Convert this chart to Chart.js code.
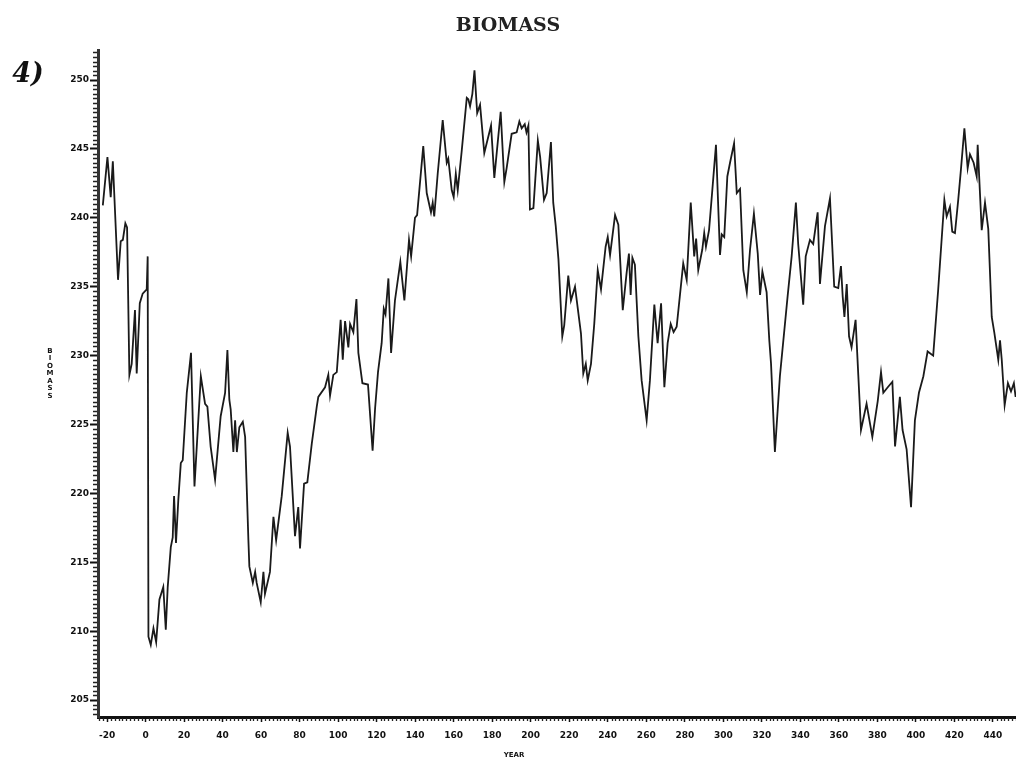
<!DOCTYPE html>
<html>
<head>
<meta charset="utf-8">
<title>Biomass</title>
<script src="https://cdn.jsdelivr.net/npm/chart.js@4.4.1/dist/chart.umd.min.js"></script>
<style>
  html, body { margin: 0; padding: 0; background: #fff; }
  #wrap { position: relative; width: 1016px; height: 765px; }
</style>
</head>
<body>
<div id="wrap"><canvas id="biomassChart"></canvas></div>
<script>
// ===================
// Data: simulated biomass by year
// ===================
const years = [
  -22.2, -19.8, -18.1, -17.0, -14.3, -12.9, -11.8, -10.5, -9.6, -8.4, -7.2, -5.5, -4.6, -3.0, -1.5, 0.6, 1.1,
  1.5, 2.7, 4.1, 5.5, 7.2, 9.2, 10.5, 11.5, 13.1, 14.1, 14.8, 15.8, 17.0, 18.3, 19.3, 21.4, 23.6, 25.4,
  28.7, 30.9, 32.1, 33.8, 36.1, 39.0, 41.3, 42.5, 43.5, 44.2, 45.6, 46.5, 47.4, 48.7, 50.5, 51.7,
  53.4, 53.9, 55.7, 56.9, 57.7, 59.8, 61.2, 62.0, 64.6, 66.4, 67.8, 70.7, 73.8, 75.0, 77.6, 79.3,
  80.2, 82.3, 84.0, 86.3, 88.9, 89.7, 93.2, 94.9, 95.8, 97.5, 99.3, 101.3, 102.4, 103.6, 105.3,
  106.2, 107.9, 109.5, 110.5, 112.6, 115.5, 117.9, 119.2, 120.7, 122.6, 123.7, 124.6, 126.1, 127.5,
  129.5, 132.3, 134.4, 136.8, 137.9, 139.9, 141.0, 144.2, 146.0, 148.2, 149.1, 149.9, 151.7, 154.3,
  156.4, 157.2, 159.0, 160.0, 161.1, 162.1, 164.2, 166.8, 167.6, 168.5, 169.7, 170.8, 172.2, 173.7,
  175.9, 179.4, 181.1, 184.4, 186.3, 187.5, 190.1, 192.7, 194.1, 195.3, 196.9, 197.8, 198.8, 199.6,
  201.4, 203.7, 204.9, 206.9, 208.3, 210.5, 211.7, 213.0, 214.4, 216.4, 217.4, 219.5, 220.9, 223.0,
  226.1, 227.3, 228.6, 229.6, 231.3, 233.0, 234.8, 236.5, 238.9, 240.0, 241.2, 243.8, 245.5, 247.8,
  249.8, 251.0, 251.9, 252.8, 254.1, 255.9, 257.6, 260.2, 261.9, 264.2, 265.9, 267.7, 269.4, 271.1,
  272.7, 274.2, 275.8, 279.2, 281.0, 283.1, 284.9, 285.9, 287.0, 289.1, 290.1, 291.0, 292.6, 294.3,
  296.2, 298.3, 299.2, 300.5, 302.1, 303.5, 305.6, 307.0, 308.7, 310.4, 312.2, 313.9, 315.9, 317.9,
  319.1, 320.3, 322.5, 323.9, 324.8, 326.8, 329.4, 333.4, 335.5, 337.7, 338.9, 341.5, 342.8, 345.0,
  346.7, 349.0, 350.2, 352.8, 355.4, 357.6, 359.7, 361.1, 362.0, 362.9, 364.1, 365.3, 366.6, 368.7,
  370.1, 371.5, 374.4, 377.4, 380.2, 381.9, 383.1, 385.4, 387.8, 389.2, 391.7, 393.1, 395.2, 397.5,
  399.5, 401.6, 403.9, 406.1, 409.0, 411.6, 414.8, 416.0, 417.7, 418.9, 420.3, 422.0, 423.4, 425.2,
  426.9, 428.1, 430.0, 431.6, 432.1, 434.2, 435.9, 437.6, 439.4, 440.7, 442.8, 443.7, 444.6, 446.1,
  447.8, 449.4, 450.9, 451.8
];

const biomass = [
  240.9, 244.4, 241.5, 244.1, 235.5, 238.3, 238.4, 239.6, 239.3, 228.6, 229.4, 233.3, 228.7, 233.8, 234.5, 234.8, 237.2,
  209.6, 209.0, 210.2, 209.2, 212.3, 213.2, 210.1, 213.2, 216.1, 216.8, 219.8, 216.4, 219.5, 222.2, 222.4, 227.3, 230.2, 220.5,
  228.5, 226.5, 226.3, 223.4, 221.0, 225.6, 227.3, 230.4, 226.8, 226.1, 223.0, 225.3, 223.0, 224.8, 225.2, 224.1,
  216.6, 214.7, 213.5, 214.3, 213.5, 212.1, 214.3, 212.7, 214.3, 218.3, 216.6, 219.8, 224.4, 223.4, 216.9, 219.0,
  216.0, 220.7, 220.8, 223.6, 226.3, 227.0, 227.7, 228.6, 227.1, 228.6, 228.8, 232.6, 229.7, 232.5, 230.6,
  232.3, 231.7, 234.1, 230.2, 228.0, 227.9, 223.1, 226.2, 228.8, 230.9, 233.4, 233.0, 235.6, 230.2,
  234.0, 236.8, 234.0, 238.4, 237.2, 240.0, 240.2, 245.2, 241.8, 240.4, 241.1, 240.1, 243.2, 247.1,
  244.0, 244.3, 242.0, 241.5, 243.2, 242.0, 244.9, 248.7, 248.6, 248.1, 249.0, 250.7, 247.6, 248.2,
  244.7, 246.7, 242.9, 247.7, 242.6, 243.6, 246.1, 246.2, 247.0, 246.5, 246.8, 246.2, 246.7, 240.6,
  240.7, 245.6, 244.4, 241.3, 241.8, 245.5, 241.1, 239.4, 237.0, 231.4, 232.2, 235.8, 234.0, 235.0,
  231.6, 228.7, 229.4, 228.2, 229.4, 232.3, 236.2, 234.8, 237.9, 238.6, 237.3, 240.2, 239.5, 233.3,
  236.0, 237.4, 234.4, 237.1, 236.6, 231.4, 228.2, 225.3, 228.2, 233.7, 230.9, 233.8, 227.7, 230.9,
  232.3, 231.7, 232.1, 236.7, 235.5, 241.1, 237.2, 238.5, 236.2, 237.7, 238.9, 237.9, 239.1, 242.0,
  245.3, 237.3, 238.8, 238.6, 243.0, 244.0, 245.4, 241.8, 242.1, 236.2, 234.6, 237.7, 240.3, 237.4,
  234.4, 236.1, 234.6, 231.1, 229.4, 223.0, 228.5, 234.3, 237.2, 241.1, 238.1, 233.7, 237.2, 238.4,
  238.1, 240.4, 235.2, 239.4, 241.4, 235.0, 234.9, 236.5, 234.3, 232.8, 235.2, 231.4, 230.6, 232.6,
  228.6, 224.6, 226.5, 224.1, 226.7, 228.8, 227.3, 227.7, 228.1, 223.4, 227.0, 224.6, 223.2, 219.0,
  225.3, 227.3, 228.5, 230.3, 230.0, 234.8, 241.3, 240.1, 240.8, 239.0, 238.9, 241.3, 243.5, 246.5,
  243.6, 244.6, 244.0, 243.0, 245.3, 239.1, 241.1, 239.2, 232.8, 231.7, 229.7, 231.1, 229.7, 226.4,
  228.0, 227.4, 228.0, 227.0
];

const yAxisTitle = "BIOMASS";
const xAxisTitle = "YEAR";
const panelLabel = "4)";

// fixed axis box sizes so the plot area lands where we want it
const Y_AXIS_W = 98;
const X_AXIS_H = 48;

// short minor tick marks along both axes
const minorTicks = {
  id: "minorTicks",
  afterDraw(chart) {
    const { ctx, chartArea, scales } = chart;
    const x = scales.x, y = scales.y;
    ctx.save();
    ctx.strokeStyle = "#222";
    ctx.lineWidth = 1.3;
    ctx.beginPath();
    for (let k = -60; k <= 160; k++) {
      const v = 205 + k / 3;
      if (v < y.min || v > y.max || k % 15 === 0) continue;
      const py = Math.round(y.getPixelForValue(v)) + 0.5;
      ctx.moveTo(chartArea.left - 5, py);
      ctx.lineTo(chartArea.left - 1, py);
    }
    for (let v = -24; v <= 452; v += 2) {
      if (v % 20 === 0) continue;
      const px = Math.round(x.getPixelForValue(v)) + 0.5;
      ctx.moveTo(px, chartArea.bottom + 1);
      ctx.lineTo(px, chartArea.bottom + 4);
    }
    ctx.stroke();
    ctx.restore();
  },
};

// stacked y title, axis title under x and the panel label
const extraText = {
  id: "extraText",
  afterDraw(chart) {
    const { ctx, chartArea } = chart;
    ctx.save();
    ctx.fillStyle = "#111";
    ctx.textAlign = "center";
    ctx.textBaseline = "middle";
    ctx.font = "bold 7px 'DejaVu Sans'";
    const midY = (chartArea.top + chartArea.bottom) / 2 - 10;
    const step = 7.5;
    const startY = midY - ((yAxisTitle.length - 1) * step) / 2;
    for (let i = 0; i < yAxisTitle.length; i++) {
      ctx.fillText(yAxisTitle[i], chartArea.left - 48, startY + i * step);
    }
    ctx.font = "bold 7px 'DejaVu Sans'";
    ctx.fillText(xAxisTitle, 514, chartArea.bottom + 38);
    ctx.font = "italic bold 27px 'DejaVu Serif'";
    ctx.fillText(panelLabel, 28, 75);
    ctx.restore();
  },
};

new Chart(document.getElementById("biomassChart"), {
  type: "line",
  data: {
    datasets: [
      {
        label: "Biomass",
        data: years.map((yr, i) => ({ x: yr, y: biomass[i] })),
        borderColor: "#1a1a1a",
        borderWidth: 1.8,
        pointRadius: 0,
        tension: 0,
        fill: false,
      },
    ],
  },
  options: {
    responsive: true,
    maintainAspectRatio: false,
    animation: false,
    layout: { padding: { left: 0, right: 0, top: 0, bottom: 0 } },
    plugins: {
      legend: { display: false },
      tooltip: { enabled: false },
      title: {
        display: true,
        text: "BIOMASS",
        color: "#222",
        font: { family: "'DejaVu Serif'", size: 19, weight: "bold" },
        padding: { top: 15, bottom: 12.2 },
      },
    },
    scales: {
      x: {
        type: "linear",
        min: -24.7,
        max: 452,
        afterFit: (s) => { s.height = X_AXIS_H; },
        border: { display: true, color: "#111", width: 3 },
        grid: { drawOnChartArea: false, tickLength: 5, tickWidth: 1.5, tickColor: "#111" },
        ticks: {
          stepSize: 20,
          includeBounds: false,
          maxRotation: 0,
          autoSkip: false,
          padding: 8,
          color: "#111",
          font: { family: "'DejaVu Sans'", size: 9, weight: "bold" },
        },
      },
      y: {
        min: 203.77,
        max: 252.18,
        afterFit: (s) => { s.width = Y_AXIS_W; },
        border: { display: true, color: "#333", width: 3 },
        grid: { drawOnChartArea: false, tickLength: 8, tickWidth: 2, tickColor: "#111" },
        ticks: {
          stepSize: 5,
          includeBounds: false,
          padding: 1,
          color: "#111",
          font: { family: "'DejaVu Sans'", size: 9, weight: "bold" },
        },
      },
    },
  },
  plugins: [minorTicks, extraText],
});
</script>
</body>
</html>
